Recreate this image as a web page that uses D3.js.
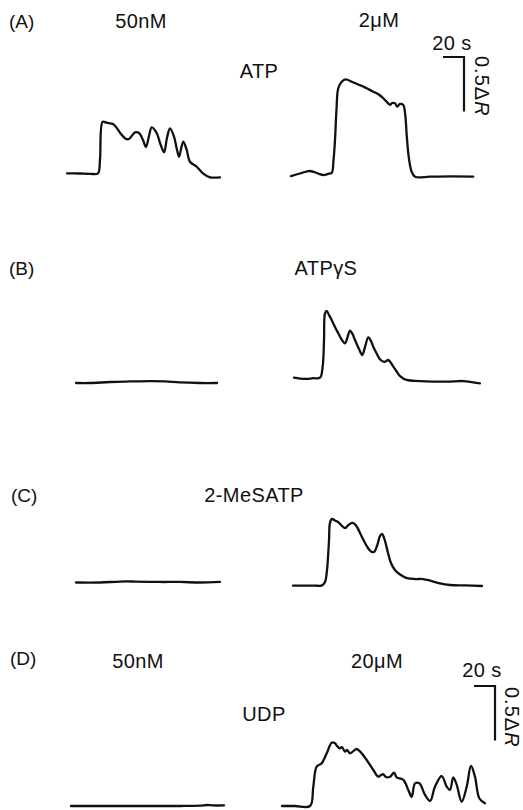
<!DOCTYPE html>
<html>
<head>
<meta charset="utf-8">
<script src="https://cdn.jsdelivr.net/npm/d3@7"></script>
<style>
  html, body { margin: 0; padding: 0; background: #fff; }
  svg { display: block; }
  text { font-family: "Liberation Sans", Arial, Helvetica, sans-serif; fill: #111; }
</style>
</head>
<body>
<script>
// ---------- DATA (time in s from trace start, response in ΔR) ----------
const panelLetters = ["(A)", "(B)", "(C)", "(D)"];
const agonists = ["ATP", "ATPγS", "2-MeSATP", "UDP"];
const concLabelsA = ["50nM", "2μM"];
const concLabelsD = ["50nM", "20μM"];
const scaleTime = 20;     // s
const scaleResp = 0.5;    // ΔR

const atpLow = [[0,0.034],[12.4,0.032],[21.9,0.029],[29.5,0.034],[31.4,0.156],[34.0,0.507],[37.8,0.498],[43.8,0.486],[46.7,0.459],[50.5,0.406],[56.2,0.349],[59.0,0.349],[64.8,0.410],[68.6,0.404],[72.4,0.339],[75.2,0.275],[78.1,0.376],[80.7,0.456],[85.4,0.404],[88.6,0.312],[92.4,0.227],[95.2,0.358],[98.1,0.447],[101.9,0.370],[104.8,0.248],[106.7,0.186],[108.6,0.257],[110.8,0.324],[114.0,0.248],[117.1,0.140],[123.5,0.094],[129.5,0.034],[136.2,-0.003],[145.7,-0.003]];
const atpHigh = [[0,0.009],[8.6,0.032],[18.1,0.055],[25.7,0.032],[30.8,0.018],[35.2,0.028],[38.8,0.039],[40.5,0.156],[41.9,0.339],[43.3,0.615],[45.0,0.814],[48.3,0.874],[52.1,0.896],[57.8,0.874],[63.8,0.849],[67.6,0.835],[72.1,0.814],[77.1,0.789],[81.6,0.768],[84.8,0.748],[87.6,0.725],[90.5,0.697],[94.3,0.661],[96.2,0.679],[99.0,0.676],[101.2,0.645],[103.8,0.670],[106.9,0.661],[108.6,0.587],[110.2,0.385],[111.7,0.217],[113.3,0.110],[114.9,0.049],[118.1,0.003],[132.4,0.003],[151.4,0.005],[173.6,0.003]];
const atpgsLow = [[0,0],[13.3,0],[32.4,0.009],[51.4,0.014],[70.5,0.018],[84.8,0.014],[99.0,0.005],[118.1,0],[134.3,0]];
const atpgsHigh = [[0,0.049],[5.7,0.041],[12.1,0.037],[18.1,0.044],[24.8,0.049],[27.3,0.150],[28.6,0.394],[29.5,0.639],[31.1,0.661],[33.3,0.624],[35.9,0.578],[39.0,0.514],[42.2,0.456],[45.7,0.394],[48.6,0.364],[51.0,0.422],[53.3,0.480],[55.7,0.450],[58.1,0.394],[61.9,0.312],[65.0,0.257],[67.6,0.330],[70.8,0.419],[73.3,0.385],[75.5,0.333],[79.0,0.266],[81.9,0.217],[84.8,0.197],[86.7,0.195],[89.8,0.211],[92.4,0.183],[94.6,0.150],[98.1,0.101],[101.0,0.064],[107.3,0.028],[120.0,0.018],[145.4,0.012],[161.2,0.018],[177.1,-0.003]];
const mesLow = [[0,0.032],[22.9,0.032],[41.9,0.041],[56.2,0.041],[80.0,0.037],[99.0,0.037],[118.1,0.032],[137.1,0.037]];
const mesHigh = [[0,0.003],[11.4,0.003],[21.0,0.003],[27.6,0.006],[30.5,0.037],[32.4,0.147],[34.3,0.422],[35.2,0.578],[37.1,0.615],[40.0,0.601],[42.9,0.587],[45.7,0.560],[49.5,0.532],[53.3,0.564],[57.1,0.578],[61.0,0.541],[63.8,0.486],[67.6,0.413],[71.4,0.349],[74.3,0.317],[77.1,0.312],[80.0,0.367],[82.9,0.459],[84.8,0.477],[87.1,0.431],[90.5,0.303],[93.3,0.211],[97.1,0.147],[101.9,0.106],[108.6,0.073],[116.2,0.064],[123.8,0.064],[130.5,0.050],[140.0,0.023],[149.5,0.009],[163.8,0.005],[180.0,0]];
const udpLow = [[0,0],[27.6,0],[65.7,0],[103.8,0],[122.9,0.003],[129.5,0.009],[135.2,0.005],[145.7,0.005]];
const udpHigh = [[0,0],[12.4,0],[26.7,0],[29.8,0.177],[33.0,0.361],[37.8,0.392],[42.6,0.483],[47.3,0.581],[50.5,0.575],[52.4,0.550],[55.2,0.529],[57.1,0.541],[60.0,0.498],[61.9,0.514],[64.8,0.483],[71.1,0.523],[75.9,0.483],[80.7,0.422],[87.0,0.330],[91.7,0.269],[94.3,0.284],[96.5,0.291],[99.0,0.266],[102.9,0.269],[106.7,0.306],[109.2,0.263],[115.5,0.239],[120.3,0.147],[123.5,0.085],[126.7,0.208],[130.8,0.208],[136.2,0.101],[141.0,0.046],[145.7,0.177],[152.1,0.275],[156.9,0.177],[160.0,0.147],[163.1,0.263],[166.4,0.193],[171.1,0.039],[175.9,0.177],[180.0,0.367],[183.8,0.269],[187.9,0.071],[193.3,0.025]];

// ---------- LAYOUT ----------
const W = 523, H = 810;
const PX_PER_S = 1.05;
const PX_PER_DR = 109;

const svg = d3.select("body").append("svg").attr("width", W).attr("height", H);

function makeScales(x0, yb) {
  const xs = d3.scaleLinear().domain([0, 200]).range([x0, x0 + 200 * PX_PER_S]);
  const ys = d3.scaleLinear().domain([0, 1]).range([yb, yb - PX_PER_DR]);
  return { xs, ys };
}

const lineGen = (sc) => d3.line()
  .x(d => sc.xs(d[0]))
  .y(d => sc.ys(d[1]))
  .curve(d3.curveCatmullRom.alpha(0.5));

const traces = [
  { data: atpLow,    x0: 67,  yb: 177 },
  { data: atpHigh,   x0: 291, yb: 177 },
  { data: atpgsLow,  x0: 76,  yb: 383 },
  { data: atpgsHigh, x0: 294, yb: 383 },
  { data: mesLow,    x0: 76,  yb: 586 },
  { data: mesHigh,   x0: 293, yb: 586 },
  { data: udpLow,    x0: 71,  yb: 806 },
  { data: udpHigh,   x0: 282, yb: 806 }
];

traces.forEach(t => {
  const sc = makeScales(t.x0, t.yb);
  svg.append("path")
    .datum(t.data)
    .attr("d", lineGen(sc))
    .attr("fill", "none")
    .attr("stroke", "#111")
    .attr("stroke-width", 2.3)
    .attr("stroke-linejoin", "round")
    .attr("stroke-linecap", "round");
});

// ---------- TEXT ----------
const FS = 20;
function label(txt, x, y, anchor, ls) {
  return svg.append("text")
    .attr("x", x).attr("y", y)
    .attr("text-anchor", anchor || "middle")
    .attr("font-size", FS)
    .attr("letter-spacing", ls == null ? 0.4 : ls)
    .text(txt);
}

const letterPos = [[9, 28], [9, 275], [11, 502], [10, 665]];
panelLetters.forEach((l, i) => label(l, letterPos[i][0], letterPos[i][1], "start", 0).attr("font-size", 19));

const agonistPos = [[259, 78], [326, 275], [254, 502], [264, 721]];
agonists.forEach((a, i) => label(a, agonistPos[i][0], agonistPos[i][1], "middle"));

label(concLabelsA[0], 141, 27.5);
label(concLabelsA[1], 379, 27);
label(concLabelsD[0], 138, 668);
label(concLabelsD[1], 377, 668);

// ---------- SCALE BARS ----------
function scaleBar(cx, cy, tx, ty, rx, ry) {
  const sc = makeScales(0, 0);
  const lenX = sc.xs(scaleTime) - sc.xs(0);
  const lenY = sc.ys(0) - sc.ys(scaleResp);
  svg.append("path")
    .attr("d", `M${cx - lenX},${cy}H${cx}V${cy + lenY}`)
    .attr("fill", "none")
    .attr("stroke", "#111")
    .attr("stroke-width", 2.2);
  label(`${scaleTime} s`, tx, ty, "middle");
  const t = svg.append("text")
    .attr("transform", `translate(${rx},${ry}) rotate(90)`)
    .attr("font-size", FS)
    .attr("letter-spacing", 1)
    .attr("text-anchor", "start");
  t.append("tspan").text(`${scaleResp}Δ`);
  t.append("tspan").attr("font-style", "italic").text("R");
}

scaleBar(464, 57, 452, 50, 475, 56);
scaleBar(495, 686, 482, 677, 505, 687);
</script>
</body>
</html>
